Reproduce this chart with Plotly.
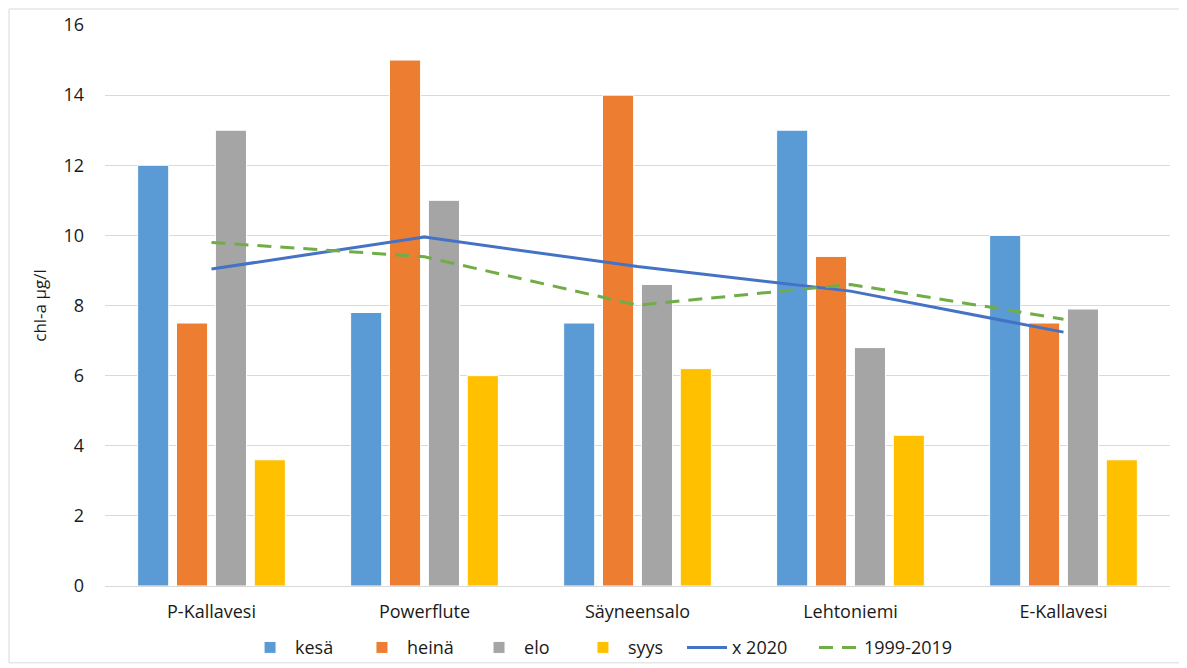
import plotly.graph_objects as go

categories = ["P-Kallavesi", "Powerflute", "Säyneensalo", "Lehtoniemi", "E-Kallavesi"]
kesa = [12, 7.8, 7.5, 13, 10]
heina = [7.5, 15, 14, 9.4, 7.5]
elo = [13, 11, 8.6, 6.8, 7.9]
syys = [3.6, 6, 6.2, 4.3, 3.6]
x2020 = [9.04, 9.95, 9.11, 8.41, 7.24]
avg_1999_2019 = [9.8, 9.39, 8.01, 8.6, 7.61]
y_ticks = [0, 2, 4, 6, 8, 10, 12, 14, 16]

FONT = "Open Sans, Calibri, sans-serif"

# legend entry horizontal positions (paper fraction), one legend per series
legend_x = [0.1315, 0.2366, 0.3465, 0.4441, 0.5418, 0.6657]
legend_ids = ["legend", "legend2", "legend3", "legend4", "legend5", "legend6"]

fig = go.Figure()
bar_series = [("kesä", kesa, "#5B9BD5"), ("heinä", heina, "#ED7D31"),
              ("elo", elo, "#A5A5A5"), ("syys", syys, "#FFC000")]
for i, (name, vals, col) in enumerate(bar_series):
    fig.add_trace(go.Bar(x=categories, y=vals, name=name, legend=legend_ids[i],
                         marker=dict(color=col, line=dict(color="white", width=1))))
fig.add_trace(go.Scatter(x=categories, y=x2020, name="x 2020", mode="lines",
                         legend=legend_ids[4],
                         line=dict(color="#4472C4", width=3)))
fig.add_trace(go.Scatter(x=categories, y=avg_1999_2019, name="1999-2019", mode="lines",
                         legend=legend_ids[5],
                         line=dict(color="#70AD47", width=3, dash="14px,9px")))

legend_common = dict(orientation="h", xanchor="left", y=-0.11, yanchor="middle",
                     font=dict(size=18), itemwidth=40, bgcolor="rgba(0,0,0,0)")
legend_layout = {lid: dict(legend_common, x=lx) for lid, lx in zip(legend_ids, legend_x)}

fig.update_layout(
    width=1187, height=668,
    margin=dict(l=97, r=25, t=17, b=90, autoexpand=False),
    paper_bgcolor="white", plot_bgcolor="white",
    barmode="group", bargap=0.27, bargroupgap=0.2,
    font=dict(family=FONT, size=17, color="#1a1a1a"),
    showlegend=True,
    xaxis=dict(showgrid=False, showline=False, ticks="", tickfont=dict(size=18),
               ticklabelstandoff=13, automargin=False),
    yaxis=dict(range=[0, 16], tickvals=y_ticks, showgrid=True, gridcolor="#d9d9d9",
               gridwidth=1, zeroline=True, zerolinecolor="#d9d9d9", zerolinewidth=1,
               ticks="", tickfont=dict(size=18), ticklabelstandoff=20, automargin=False,
               title=dict(text="chl-a µg/l", font=dict(size=17), standoff=12)),
    shapes=[dict(type="rect", xref="paper", yref="paper", x0=-0.0901, x1=1.0094,
                 y0=-0.137, y1=1.0285, line=dict(color="#d9d9d9", width=1),
                 fillcolor="rgba(0,0,0,0)", layer="below")],
    **legend_layout,
)

fig.write_html("out.html")
